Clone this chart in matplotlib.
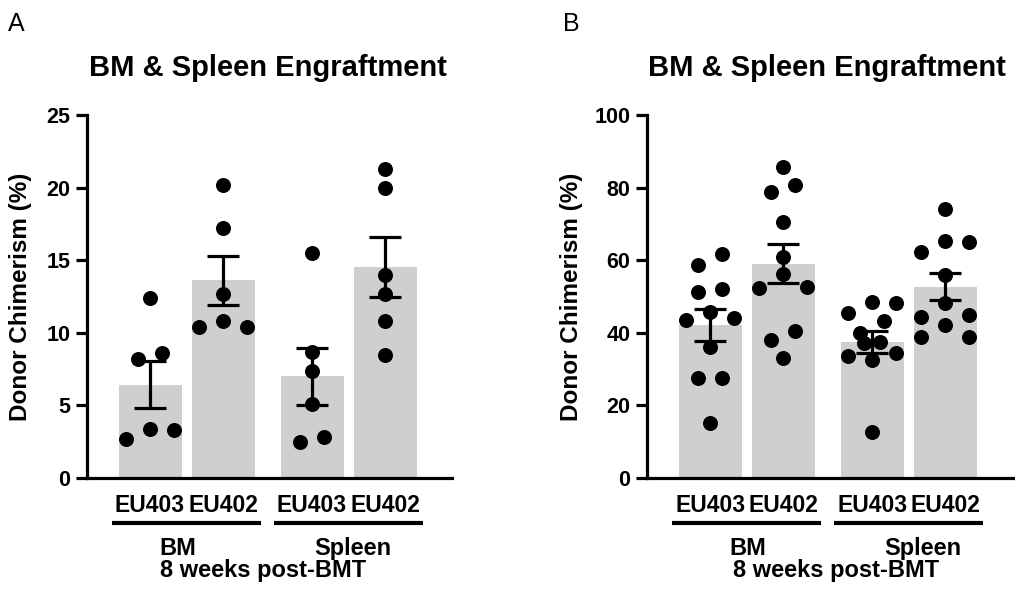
import numpy as np
import matplotlib
matplotlib.use('Agg')
import matplotlib.pyplot as plt
from matplotlib import transforms

plt.rcParams['font.family'] = ['Liberation Sans', 'DejaVu Sans']

# data (donor chimerism, %)
labels = ['EU403', 'EU402', 'EU403', 'EU402']
tissues = ['BM', 'Spleen']

bm403_a = [12.4, 8.6, 8.2, 3.4, 3.3, 2.7]
bm402_a = [20.2, 17.2, 12.7, 10.8, 10.4, 10.4]
sp403_a = [15.5, 8.7, 7.4, 5.1, 2.8, 2.5]
sp402_a = [21.3, 20.0, 14.0, 12.7, 10.8, 8.5]

bm403_b = [61.7, 58.7, 52.2, 51.3, 45.8, 44.0, 43.5, 36.2, 27.5, 27.5, 15.2]
bm402_b = [85.6, 80.7, 78.9, 70.4, 61.0, 56.1, 52.7, 52.4, 40.5, 38.0, 33.1]
sp403_b = [48.6, 48.1, 45.4, 43.3, 40.0, 37.5, 37.1, 34.3, 33.6, 32.5, 12.8]
sp402_b = [74.0, 65.4, 64.9, 62.3, 55.9, 48.1, 44.9, 44.3, 42.1, 38.8, 38.8]

W, H = 1015, 596
DOT = 15  # marker diameter, px
xpos = np.array([0, 1, 2.22, 3.22])

fig = plt.figure(figsize=(W / 100, H / 100), dpi=100)


def row_offsets(vals, px_per_unit):
    # GraphPad-like scatter: points close in y share a row, spread symmetrically
    order = np.argsort(vals)[::-1]
    off = np.zeros(len(vals))
    rows, cur = [], [order[0]]
    for i in order[1:]:
        if (vals[cur[0]] - vals[i]) * px_per_unit < DOT:
            cur.append(i)
        else:
            rows.append(cur)
            cur = [i]
    rows.append(cur)
    for r in rows:
        n = len(r)
        if n == 1:
            continue
        step = 24 if n <= 3 else 48 / (n - 1)
        slots = (np.arange(n) - (n - 1) / 2) * step
        # highest in the centre, then right, then left
        idx = sorted(range(n), key=lambda k: (abs(slots[k]), -slots[k]))
        for k, j in zip(idx, r):
            off[j] = slots[k]
    return off


def panel(rect_px, data, ymax, ystep, letter, letter_x, title_x, texts):
    left, top, right, bottom = rect_px
    ax = fig.add_axes([left / W, 1 - bottom / H, (right - left) / W, (bottom - top) / H])
    centre0 = left + 63 + 0.05 * (right - left - 365)
    unit = 73.0
    x0 = (left - centre0) / unit
    x1 = x0 + (right - left) / unit
    ax.set_xlim(x0, x1)
    ax.set_ylim(0, ymax)
    ppu = (bottom - top) / ymax

    means = [np.mean(d) for d in data]
    sems = [np.std(d, ddof=1) / np.sqrt(len(d)) for d in data]
    ax.bar(xpos, means, width=63 / unit, color='#cfcfcf', zorder=1)
    for x, d in zip(xpos, data):
        d = np.array(d)
        off = row_offsets(d, ppu) / unit
        ax.scatter(x + off, d, s=(DOT * 0.72) ** 2, color='black', zorder=3,
                   clip_on=False, linewidths=0)
    ax.errorbar(xpos, means, yerr=sems, fmt='none', ecolor='black',
                elinewidth=2.3, capsize=11.5, capthick=2.3, zorder=4)

    for s in ['top', 'right']:
        ax.spines[s].set_visible(False)
    for s in ['left', 'bottom']:
        ax.spines[s].set_linewidth(2.3)
    ax.set_yticks(np.arange(0, ymax + 1, ystep))
    ax.set_xticks([])
    ax.tick_params(axis='y', length=8, width=2.3, labelsize=15.5, pad=4)
    for t in ax.get_yticklabels():
        t.set_fontweight('bold')
    ax.set_ylabel('Donor Chimerism (%)', fontsize=17.5, fontweight='bold')
    ax.yaxis.set_label_coords((texts['ylab_x'] - left) / (right - left), 0.5)

    tr = transforms.blended_transform_factory(ax.transData, fig.transFigure)
    for x, lab in zip(xpos, labels):
        ax.text(x, 1 - 512.5 / H, lab, transform=tr, ha='center', va='baseline',
                fontsize=16.5, fontweight='bold')
    for g in range(2):
        xa = xpos[2 * g] - 0.52
        xb = xpos[2 * g + 1] + 0.52
        ax.plot([xa, xb], [1 - 522.7 / H] * 2, transform=tr, color='black',
                lw=3, clip_on=False, solid_capstyle='butt')
    for tx, lab in zip(texts['tissue_x'], tissues):
        fig.text(tx / W, 1 - 555 / H, lab, ha='center', va='baseline',
                 fontsize=17, fontweight='bold')
    fig.text(texts['weeks_x'] / W, 1 - 577 / H, '8 weeks post-BMT', ha='center',
             va='baseline', fontsize=17, fontweight='bold')

    fig.text(letter_x / W, 1 - 31 / H, letter, ha='left', va='baseline', fontsize=18)
    fig.text(title_x / W, 1 - 76 / H, 'BM & Spleen Engraftment', ha='center',
             va='baseline', fontsize=21, fontweight='bold')
    return ax


panel((87, 115, 452, 478), [bm403_a, bm402_a, sp403_a, sp402_a], 25, 5, 'A', 8, 268,
      {'ylab_x': 32, 'tissue_x': [178, 353], 'weeks_x': 263})
panel((647, 115, 1014, 478), [bm403_b, bm402_b, sp403_b, sp402_b], 100, 20, 'B', 563, 827,
      {'ylab_x': 583, 'tissue_x': [748, 923], 'weeks_x': 836})

fig.savefig('out.png', dpi=100)
